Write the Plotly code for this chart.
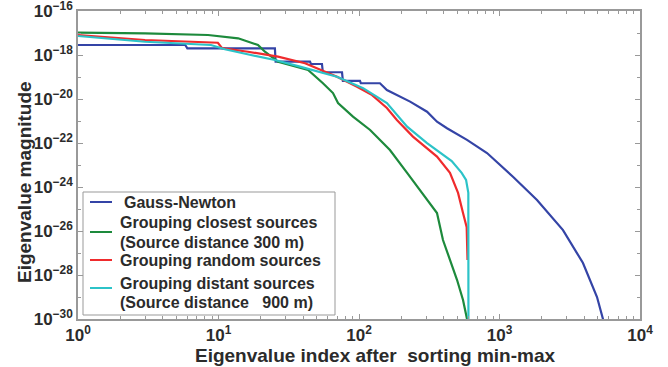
import plotly.graph_objects as go

# Eigenvalue spectra, sorted by magnitude, for the four Hessian approximations
gn_index = [1, 5.8, 6.0, 25.2, 25.5, 44.8, 45.5, 54.5, 55.3, 75.7, 76.8, 101.6, 103,
            141, 158, 186, 231, 305, 359, 423, 587, 815, 1247, 1849, 2831, 3928,
            4943, 5450, 5550]
gn_value = [2.85e-18, 2.85e-18, 2.0e-18, 2.0e-18, 4.95e-19, 4.95e-19, 3.9e-19,
            3.9e-19, 1.64e-19, 1.64e-19, 6.6e-20, 6.6e-20, 5.2e-20, 5.2e-20,
            2.57e-20, 1.51e-20, 7.6e-21, 2.65e-21, 9.3e-22, 4.7e-22, 1.38e-22,
            3.5e-23, 2.94e-24, 2.57e-25, 1.1e-26, 3.5e-28, 1.0e-29, 1.0e-30, 3e-31]

closest_index = [1, 3.0, 8.42, 10.4, 13.8, 19.1, 21.4, 26.5, 32.8, 43.4, 55.4, 65.3,
                 70.9, 90.6, 120, 166, 220, 272, 359, 396, 499, 550, 587, 592]
closest_value = [1.03e-17, 9.7e-18, 8.1e-18, 6.8e-18, 5.75e-18, 2.85e-18, 1.41e-18,
                 4.95e-19, 3.5e-19, 2.1e-19, 5.2e-20, 1.86e-20, 6.6e-21, 1.58e-21,
                 3.9e-22, 4.8e-23, 4.4e-24, 7.2e-25, 6.6e-26, 3.9e-27, 5.9e-29,
                 7.3e-30, 1.0e-30, 3e-31]

random_index = [1, 3.0, 9.9, 10.6, 16.2, 26.5, 41.3, 69.7, 96.8, 124, 158, 186, 242,
                359, 444, 507, 550, 584, 592]
random_value = [8.1e-18, 4.8e-18, 3.6e-18, 2.05e-18, 1.41e-18, 8.4e-19, 4.2e-19,
                1.03e-19, 3.6e-20, 1.51e-20, 3.9e-21, 1.11e-21, 1.95e-22, 2.4e-23,
                4.4e-24, 5.4e-25, 6.6e-26, 1.5e-26, 4.8e-28]

distant_index = [1, 3.0, 8.84, 11.1, 17.0, 25.2, 38.0, 69.7, 107, 158, 220, 305, 457,
                 538, 578, 600, 601, 601]
distant_value = [7.3e-18, 4.0e-18, 2.85e-18, 1.82e-18, 1.0e-18, 5.9e-19, 2.95e-19,
                 1.03e-19, 3.1e-20, 6.6e-21, 5.5e-22, 9.8e-23, 1.5e-23, 4.4e-24,
                 2.1e-24, 5.4e-25, 1.0e-30, 3e-31]

series_names = [
    "Gauss-Newton",
    "Grouping closest sources<br>(Source distance 300 m)",
    "Grouping random sources",
    "Grouping distant sources<br>(Source distance \u00a0 900 m)",
]
series_colors = ["#3444a6", "#1d8a3c", "#ef2b2d", "#2cc3c8"]

x_tick_vals = [1, 10, 100, 1000, 10000]
x_tick_text = ["10<sup>0</sup>", "10<sup>1</sup>", "10<sup>2</sup>",
               "10<sup>3</sup>", "10<sup>4</sup>"]
y_tick_vals = [1e-30, 1e-28, 1e-26, 1e-24, 1e-22, 1e-20, 1e-18, 1e-16]
y_tick_text = ["10<sup>\u221230</sup>", "10<sup>\u221228</sup>", "10<sup>\u221226</sup>",
               "10<sup>\u221224</sup>", "10<sup>\u221222</sup>", "10<sup>\u221220</sup>",
               "10<sup>\u221218</sup>", "10<sup>\u221216</sup>"]

x_minor = [m * 10 ** d for d in range(4) for m in range(2, 10)]
y_minor = [10.0 ** e for e in range(-29, -16, 2)]

FONT = "Liberation Sans, Arial, sans-serif"
TEXT = "#2b2b2b"
FRAME = "#999999"

# Figure geometry (pixels)
W, H = 668, 367
ML, MR, MT, MB = 78, 28, 11, 48
PW, PH = W - ML - MR, H - MT - MB


def px_x(px):
    """Horizontal pixel position -> paper coordinate."""
    return (px - ML) / PW


def px_y(py):
    """Vertical pixel position (from top) -> paper coordinate."""
    return (H - MB - py) / PH


fig = go.Figure()
for xs, ys, name, color in zip(
    [gn_index, closest_index, random_index, distant_index],
    [gn_value, closest_value, random_value, distant_value],
    series_names, series_colors,
):
    fig.add_trace(go.Scatter(x=xs, y=ys, mode="lines", name=name, showlegend=False,
                             line=dict(color=color, width=2.2)))

axis_common = dict(
    type="log", showgrid=False, zeroline=False, showline=True, automargin=False,
    linecolor=FRAME, linewidth=1.5, mirror="allticks",
    ticks="inside", ticklen=5, tickcolor=FRAME, tickmode="array",
    ticklabeloverflow="allow",
    tickfont=dict(family=FONT, size=17, color=TEXT, weight="bold"),
)

fig.update_xaxes(
    **axis_common, range=[0, 4], tickvals=x_tick_vals, ticktext=x_tick_text,
    minor=dict(tickmode="array", tickvals=x_minor, ticks="inside", ticklen=3,
               tickcolor=FRAME, showgrid=False),
)
fig.update_yaxes(
    **axis_common, range=[-30, -16], tickvals=y_tick_vals, ticktext=y_tick_text,
    minor=dict(tickmode="array", tickvals=y_minor, ticks="inside", ticklen=3,
               tickcolor=FRAME, showgrid=False),
)

annotations = [
    dict(text="Eigenvalue magnitude", textangle=-90, showarrow=False,
         xref="paper", yref="paper", x=px_x(24), y=px_y(182),
         xanchor="center", yanchor="middle",
         font=dict(family=FONT, size=19, color=TEXT, weight="bold")),
    dict(text="Eigenvalue index after \u00a0sorting min-max", showarrow=False,
         xref="paper", yref="paper", x=px_x(375), y=px_y(355),
         xanchor="center", yanchor="middle",
         font=dict(family=FONT, size=19, color=TEXT, weight="bold")),
]

# Boxed legend in the lower-left corner of the axes
shapes = [
    dict(type="rect", xref="paper", yref="paper", layer="above",
         x0=px_x(83), x1=px_x(335), y0=px_y(315), y1=px_y(192),
         line=dict(color=FRAME, width=1), fillcolor="white"),
]
sample_rows = [202, 232, 260, 288]
text_rows = [[202], [222, 242], [260], [283, 302]]
text_left = [122, 118, 118, 118]
for name, color, sy, rows, tx in zip(series_names, series_colors, sample_rows,
                                     text_rows, text_left):
    shapes.append(dict(type="line", xref="paper", yref="paper", layer="above",
                       x0=px_x(90), x1=px_x(112), y0=px_y(sy), y1=px_y(sy),
                       line=dict(color=color, width=2)))
    for line_text, ty in zip(name.split("<br>"), rows):
        annotations.append(dict(
            text=line_text, showarrow=False, xref="paper", yref="paper",
            x=px_x(tx), y=px_y(ty), xanchor="left", yanchor="middle",
            font=dict(family=FONT, size=16, color=TEXT, weight="bold")))

fig.update_layout(
    width=W, height=H, autosize=False,
    margin=dict(l=ML, r=MR, t=MT, b=MB),
    paper_bgcolor="white", plot_bgcolor="white",
    showlegend=False,
    shapes=shapes, annotations=annotations,
)

fig.write_html("out.html")
